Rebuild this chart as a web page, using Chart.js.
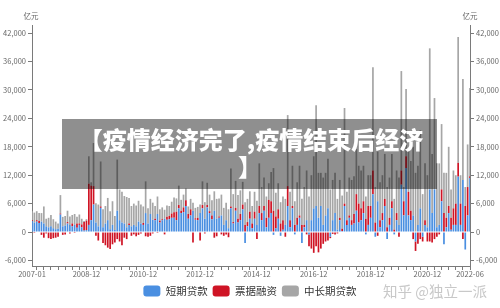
<!DOCTYPE html>
<html><head><meta charset="utf-8">
<script src="https://cdn.jsdelivr.net/npm/chart.js@4.4.1/dist/chart.umd.min.js"></script>
<style>html,body{margin:0;padding:0;background:#fff;}#wrap{width:500px;height:308px;position:relative;}</style>
</head><body><div id="wrap"><canvas id="c" width="500" height="308"></canvas></div>
<script>
// ---- data (亿元), monthly from 2007-01 to 2022-06 ----
const startYear = 2007;
const monthCount = 186;
const tickLabels = ['2007-01','2008-12','2010-12','2012-12','2014-12','2016-12','2018-12','2020-12','2022-06'];
const yTicks = [-6000,0,6000,12000,18000,24000,30000,36000,42000];
const seriesNames = ['短期贷款','票据融资','中长期贷款'];
const unitLabel = '亿元';
const titleLines = ['【疫情经济完了,疫情结束后经济','】'];
const watermark = '知乎 @独立一派';

const shortTerm = [
 2300,2000,2200,1900,2200,1800,1200,1000,1200,800,600,700,
 3700,1200,1400,1800,1500,1200,1500,900,1500,1000,300,400,
 1500,2500,5800,2000,1200,5100,1000,1800,2500,600,1500,400,
 4500,2500,2000,1800,1000,1500,1200,1500,1200,2200,1800,1500,
 4000,1800,3800,2600,2500,3800,2000,2500,2800,2600,2700,3000,
 3000,2500,5000,4000,4200,5500,2800,3500,4500,2600,2500,4000,
 5000,2800,5200,4000,2700,4500,2800,3000,3500,1500,2500,800,
 5000,1800,4500,2000,2500,4800,-2300,1200,2800,800,2800,1500,
 4000,2500,4500,1000,3000,4000,-600,800,2800,-800,500,1500,
 5500,1000,5000,-500,1500,3000,-2300,1000,2500,-500,2500,5000,
 5500,3000,5500,1500,3500,5000,-1000,2500,4000,500,2500,200,
 5500,1500,3000,1500,1800,4500,2000,2500,4000,-500,1500,3000,
 8000,-1000,6500,1000,2500,5500,-1500,1500,5000,-500,2500,1500,
 10000,3500,13500,3500,2500,3500,-2000,1500,5000,-1000,1500,1000,
 9000,4000,9000,1000,1500,6500,-2600,1000,4000,500,1500,1500,
 11700,1500,11000,-3700,3500,11400
];
const billFinancing = [
 200,-200,300,400,-600,-1200,-300,-1300,-1500,-1300,-1200,-1000,
 200,-600,-500,300,-300,600,-200,900,300,600,1800,2000,
 8700,7300,3900,-800,-1800,300,-2300,-2800,-3300,-3600,-2600,-2200,
 -1500,-2000,-2800,-1200,-1500,300,-800,-500,-900,-600,-300,400,
 -900,-1000,-800,-300,300,-200,400,200,-500,600,700,900,
 1200,1800,700,500,1000,1200,1000,1300,-2200,300,500,-1800,
 700,-300,500,400,800,-1200,-900,300,-500,-800,-500,-1100,
 400,300,600,800,1300,1000,1500,900,1500,1000,1500,-1500,
 1500,1500,1000,2000,3800,2500,4500,2500,2000,1800,2000,-1000,
 4200,1500,500,1500,1500,500,1500,500,-500,-2500,-3500,-4400,
 -3000,-4300,-3500,-2500,-2000,-1800,-300,-400,-500,-300,500,500,
 500,1000,500,1000,2000,3500,4000,2500,2500,2800,4000,2500,
 5000,2000,-800,1500,1500,1500,1000,1500,1500,500,1500,-1000,
 3000,3000,2500,5000,2000,-1500,-2000,-2500,-1500,-1000,1000,-2000,
 -2000,-2200,-1500,-1000,-500,2500,4000,2000,1500,2500,3500,4500,
 2900,4500,-1500,5500,6000,400
];
const midLongTerm = [
 1900,2100,1900,1700,1800,3600,1600,2000,2400,1900,1600,1100,
 3900,2000,2000,2400,1800,1800,2300,1400,1900,1200,200,300,
 5800,700,9100,4100,4600,9500,3800,3700,4700,3800,5000,3000,
 10800,6500,6500,5800,6400,5400,4300,4500,4400,4400,4000,3500,
 6700,3200,3200,3600,2700,3700,2400,2500,1900,2400,2100,2500,
 3100,2800,4100,2300,2700,2500,1600,2200,1700,2200,2300,1800,
 5000,3500,4700,3500,3200,4100,4200,3800,4400,3600,3700,4000,
 8000,5900,5700,5000,5000,4800,4800,4900,4300,3700,4200,5100,
 9000,5500,6000,4500,3500,6200,9000,5000,5500,4500,5000,5500,
 15000,6000,8500,5000,7500,10500,5500,8000,10500,7500,9500,11000,
 21300,9500,7000,10000,9000,10500,9000,8500,8500,6500,8000,7000,
 20200,6000,8000,8500,8000,9500,8000,8000,7500,4700,6500,6500,
 21800,7500,10500,8000,8000,9500,8500,8500,10000,6500,9000,10000,
 21000,3000,14200,9000,10500,14500,12500,12500,16500,8000,12000,11000,
 29800,12500,19300,13500,13000,13800,8500,9500,12500,6000,8000,6000,
 26600,6000,21300,4000,9000,18600
];

const categories = [];
for (let i = 0; i < monthCount; i++) {
  const y = startYear + Math.floor(i / 12);
  const m = (i % 12) + 1;
  categories.push(y + '-' + String(m).padStart(2, '0'));
}

const FONT = '"Noto Sans CJK SC", "Noto Sans", sans-serif';
const AXIS = '#7a7a7a';
const TXT = '#666';

const overlayPlugin = {
  id: 'overlay',
  afterDraw(chart) {
    const ctx = chart.ctx;
    const yl = chart.scales.y, yr = chart.scales.y2;
    ctx.save();
    ctx.fillStyle = TXT;
    ctx.font = '7.5px ' + FONT;
    ctx.textAlign = 'center';
    ctx.textBaseline = 'middle';
    ctx.fillText(unitLabel, yl.right - 1, 16);
    ctx.fillText(unitLabel, yr.left, 16);
    // watermark
    ctx.font = '14.5px ' + FONT;
    ctx.fillStyle = '#c8c8c8';
    ctx.fillText(watermark, 435, 291);
    // title overlay
    ctx.fillStyle = 'rgba(0,0,0,0.44)';
    ctx.fillRect(62, 119, 375, 70);
    ctx.fillStyle = '#ffffff';
    ctx.font = '900 24px ' + FONT;
    ctx.fillText(titleLines[0], 251, 140);
    ctx.fillText(titleLines[1], 250, 167);
    ctx.restore();
  }
};

const yCommon = (pos, w) => ({
  position: pos,
  stacked: true,
  min: -7180,
  max: 43730,
  afterBuildTicks: (s) => { s.ticks = yTicks.map(v => ({ value: v })); },
  grid: { drawOnChartArea: false, drawTicks: true, tickLength: 4, color: AXIS },
  border: { display: true, color: AXIS },
  ticks: { padding: 2, color: TXT, font: { family: FONT, size: 7.5 },
           callback: (v) => Number(v).toLocaleString('en-US') },
  afterFit: (s) => { s.width = w; }
});

new Chart(document.getElementById('c'), {
  type: 'bar',
  data: {
    labels: categories,
    datasets: [
      { label: seriesNames[0], data: shortTerm, backgroundColor: '#4a8fe1', yAxisID: 'y' },
      { label: seriesNames[1], data: billFinancing, backgroundColor: '#cf1425', yAxisID: 'y' },
      { label: seriesNames[2], data: midLongTerm, backgroundColor: '#a6a6a6', yAxisID: 'y' }
    ]
  },
  options: {
    responsive: false,
    animation: false,
    layout: { padding: { top: 25, bottom: 1.5, left: 0, right: 0 } },
    datasets: { bar: { barPercentage: 0.72, categoryPercentage: 1 } },
    plugins: {
      legend: {
        position: 'bottom',
        labels: { boxWidth: 17, boxHeight: 11, useBorderRadius: true, borderRadius: 3,
                  padding: 5, color: '#333', font: { family: FONT, size: 10.5 } }
      },
      tooltip: { enabled: false }
    },
    scales: {
      x: {
        stacked: true,
        offset: false,
        grid: { offset: false, drawOnChartArea: false, drawTicks: true, tickLength: 4,
                color: (c) => (c.index % 3 === 2 ? AXIS : 'rgba(0,0,0,0)') },
        border: { display: true, color: AXIS },
        ticks: { autoSkip: false, maxRotation: 0, minRotation: 0, padding: 0, color: TXT,
                 font: { family: FONT, size: 7.5 },
                 callback: (v, i) => (tickLabels.includes(categories[i]) ? categories[i] : '') },
        afterFit: (s) => { s.height = 14.5; }
      },
      y: yCommon('left', 32),
      y2: Object.assign(yCommon('right', 30), { stacked: false })
    }
  },
  plugins: [overlayPlugin]
});
</script>
</body></html>
